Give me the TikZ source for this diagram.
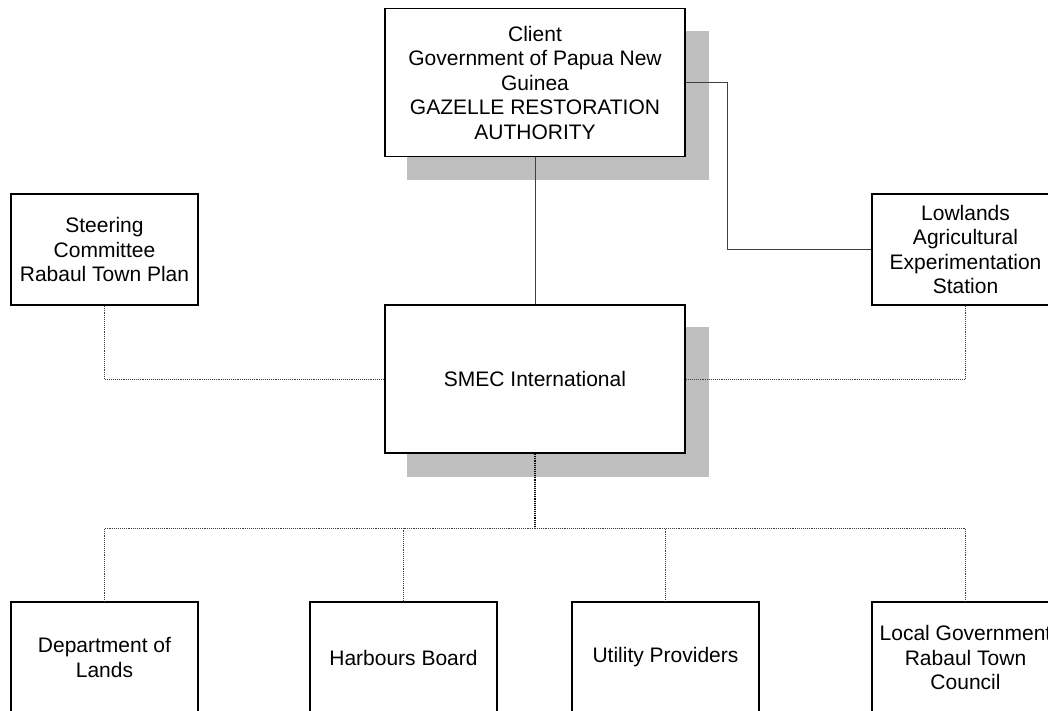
\documentclass[tikz,border=0pt]{standalone}
\usepackage{fontspec}
\setmainfont{Liberation Sans}
\usepackage{tikz}
\usetikzlibrary{positioning, backgrounds}
\definecolor{SHADOW}{rgb}{0.75,0.75,0.75}
\definecolor{LINK}{rgb}{0.25,0.25,0.25}
\tikzset{
  orgbox/.style={draw, line width=1.6pt, fill=white, align=center, inner sep=2pt,
    minimum width=187pt, minimum height=111pt, font=\fontsize{21}{24.5}\selectfont},
  bigbox/.style={orgbox, minimum width=300pt, minimum height=148pt},
  solidlink/.style={draw=LINK, line width=0.8pt},
  dotlink/.style={draw=LINK, line width=0.9pt, densely dotted},
}

\begin{document}
\begin{tikzpicture}[x=1pt, y=-1pt]
\useasboundingbox (0,0) rectangle (1048,710);
\clip (0,0) rectangle (1048,710);

\node[bigbox] (client) at (535,82.5) {Client\\Government of Papua New\\Guinea\\GAZELLE RESTORATION\\AUTHORITY};
\node[bigbox] (smec) at (535,379) {SMEC International};
\node[orgbox] (steer) at (104.5,249.5) {Steering\\Committee\\Rabaul Town Plan};
\node[orgbox] (lowland) at (965.5,249.5) {Lowlands\\Agricultural\\Experimentation\\Station};

\node[orgbox] (lands) at (104.5,657.5) {Department of\\Lands};
\node[orgbox] (harbour) at (403.5,657.5) {Harbours Board};
\node[orgbox] (utility) at (665.5,657.5) {Utility Providers};
\node[orgbox] (council) at (965.5,657.5) {Local Government\\Rabaul Town\\Council};

% grey shadows
\begin{scope}[on background layer]
\foreach \b in {client, smec}
  \fill[SHADOW] ([shift={(23,23)}]\b.north west) rectangle ([shift={(23,23)}]\b.south east);
\end{scope}

\draw[solidlink] (client.south) -- (smec.north);
\draw[solidlink] (client.east) -- ++(42,0) |- (lowland.west);
\draw[dotlink] (steer.south) |- (smec.west);
\draw[dotlink] (lowland.south) |- (smec.east);

\coordinate (bus) at (535,528);
\draw[dotlink, draw=black, line width=1.2pt] (smec.south) -- (bus);
\foreach \n in {lands, harbour, utility, council}
  \draw[dotlink] (bus) -| (\n.north);
\end{tikzpicture}
\end{document}
